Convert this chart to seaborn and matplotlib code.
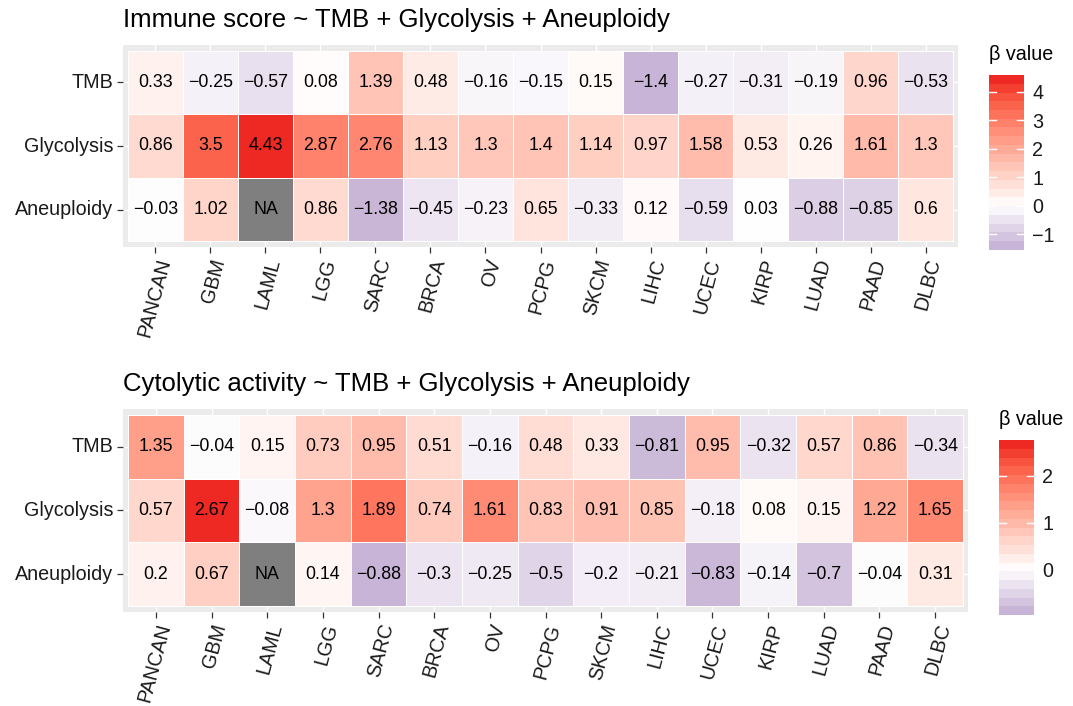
import numpy as np
import pandas as pd
import matplotlib
matplotlib.use("Agg")
import matplotlib.pyplot as plt
from matplotlib.colors import ListedColormap, TwoSlopeNorm
import seaborn as sns

plt.rcParams['font.family'] = ['Liberation Sans', 'DejaVu Sans']

# ---------------- data ----------------
cancers = ["PANCAN", "GBM", "LAML", "LGG", "SARC", "BRCA", "OV", "PCPG",
           "SKCM", "LIHC", "UCEC", "KIRP", "LUAD", "PAAD", "DLBC"]
features = ["TMB", "Glycolysis", "Aneuploidy"]

immune_tmb = [0.33, -0.25, -0.57, 0.08, 1.39, 0.48, -0.16, -0.15, 0.15, -1.4, -0.27, -0.31, -0.19, 0.96, -0.53]
immune_gly = [0.86, 3.5, 4.43, 2.87, 2.76, 1.13, 1.3, 1.4, 1.14, 0.97, 1.58, 0.53, 0.26, 1.61, 1.3]
immune_ane = [-0.03, 1.02, np.nan, 0.86, -1.38, -0.45, -0.23, 0.65, -0.33, 0.12, -0.59, 0.03, -0.88, -0.85, 0.6]

cyt_tmb = [1.35, -0.04, 0.15, 0.73, 0.95, 0.51, -0.16, 0.48, 0.33, -0.81, 0.95, -0.32, 0.57, 0.86, -0.34]
cyt_gly = [0.57, 2.67, -0.08, 1.3, 1.89, 0.74, 1.61, 0.83, 0.91, 0.85, -0.18, 0.08, 0.15, 1.22, 1.65]
cyt_ane = [0.2, 0.67, np.nan, 0.14, -0.88, -0.3, -0.25, -0.5, -0.2, -0.21, -0.83, -0.14, -0.7, -0.04, 0.31]

titles = ["Immune score ~ TMB + Glycolysis + Aneuploidy",
          "Cytolytic activity ~ TMB + Glycolysis + Aneuploidy"]
legend_title = "β value"

# ---------------- colour helpers (Lab interpolation like ggplot) ----------------
LOW = np.array([200, 180, 214]) / 255.0
MID = np.array([255, 255, 255]) / 255.0
HIGH = np.array([238, 40, 34]) / 255.0
WP = np.array([0.95047, 1.0, 1.08883])
M = np.array([[0.4124, 0.3576, 0.1805], [0.2126, 0.7152, 0.0722], [0.0193, 0.1192, 0.9505]])
Minv = np.linalg.inv(M)


def srgb_to_lab(c):
    lin = np.where(c <= 0.04045, c / 12.92, ((c + 0.055) / 1.055) ** 2.4)
    xyz = M @ lin / WP
    f = np.where(xyz > 0.008856, np.cbrt(xyz), 7.787 * xyz + 16 / 116)
    return np.array([116 * f[1] - 16, 500 * (f[0] - f[1]), 200 * (f[1] - f[2])])


def lab_to_srgb(lab):
    fy = (lab[0] + 16) / 116
    fx = fy + lab[1] / 500
    fz = fy - lab[2] / 200
    f = np.array([fx, fy, fz])
    xyz = np.where(f ** 3 > 0.008856, f ** 3, (f - 16 / 116) / 7.787) * WP
    lin = Minv @ xyz
    lin = np.clip(lin, 0, 1)
    c = np.where(lin <= 0.0031308, 12.92 * lin, 1.055 * lin ** (1 / 2.4) - 0.055)
    return np.clip(c, 0, 1)


labL, labM, labH = srgb_to_lab(LOW), srgb_to_lab(MID), srgb_to_lab(HIGH)
cols = []
for t in np.linspace(0, 1, 512):
    if t < 0.5:
        u = t / 0.5
        lab = labL + (labM - labL) * u
    else:
        u = (t - 0.5) / 0.5
        lab = labM + (labH - labM) * u
    cols.append(lab_to_srgb(lab))
cmap = ListedColormap(cols)
na_cmap = ListedColormap(["#7F7F7F"])

W, H = 1073, 706
fig = plt.figure(figsize=(W / 100, H / 100), dpi=100)


def fax(x0, y0, x1, y1):
    return fig.add_axes([x0 / W, 1 - y1 / H, (x1 - x0) / W, (y1 - y0) / H])


def fmt(v):
    if np.isnan(v):
        return ""
    return f"{v:g}".replace("-", "\u2212")


panels = [
    dict(rows=[immune_tmb, immune_gly, immune_ane], box=(123, 45, 958, 247),
         cbox=(989, 75, 1024, 250), title_y=20, ltitle_y=55),
    dict(rows=[cyt_tmb, cyt_gly, cyt_ane], box=(123, 409, 968, 612),
         cbox=(999, 440, 1034, 615), title_y=384, ltitle_y=420),
]

TXT = "#1a1a1a"
for p, title in zip(panels, titles):
    df = pd.DataFrame(p["rows"], index=features, columns=cancers)
    vals = df.values
    vmin, vmax = np.nanmin(vals), np.nanmax(vals)
    norm = TwoSlopeNorm(vmin=vmin, vcenter=0.0, vmax=vmax)
    labels = np.vectorize(fmt)(vals)

    ax = fax(*p["box"])
    ax.set_facecolor("#EBEBEB")
    sns.heatmap(df, ax=ax, cmap=cmap, norm=norm, cbar=False, annot=labels, fmt="",
                linewidths=0.7, linecolor="white",
                annot_kws=dict(fontsize=12.8, color="black"))
    # NA cells
    na = df.isna()
    na_df = pd.DataFrame(np.where(na, 1.0, np.nan), index=features, columns=cancers)
    na_lab = np.where(na, "NA", "")
    sns.heatmap(na_df, ax=ax, cmap=na_cmap, vmin=0, vmax=2, cbar=False, annot=na_lab, fmt="",
                linewidths=0.7, linecolor="white",
                annot_kws=dict(fontsize=12.8, color="black"))
    e = 0.09
    ax.set_xlim(-e, len(cancers) + e)
    ax.set_ylim(len(features) + e, -e)
    ax.set_axisbelow(True)
    ax.grid(True, color="white", linewidth=1.0)
    for s in ax.spines.values():
        s.set_visible(False)
    ax.set_xlabel("")
    ax.set_ylabel("")
    ax.set_xticks(np.arange(len(cancers)) + 0.5)
    ax.set_yticks(np.arange(len(features)) + 0.5)
    ax.set_xticklabels(cancers, rotation=75, ha="right", va="top", rotation_mode="anchor",
                       fontsize=14.2, color=TXT)
    ax.set_yticklabels(features, rotation=0, fontsize=14.2, color=TXT)
    ax.tick_params(axis="both", length=4, width=0.9, color="#333333", pad=3)

    fig.text(p["box"][0] / W, 1 - p["title_y"] / H, title, fontsize=18.5,
             ha="left", va="center", color="black")

    # colourbar (20 bins, as in ggplot)
    cax = fax(*p["cbox"])
    nbin = 20
    centers = np.linspace(vmin, vmax, nbin)
    h = (vmax - vmin) / (nbin - 1) / 2
    edges = np.linspace(vmin - h, vmax + h, nbin + 1)
    cax.pcolormesh([0, 1], edges, centers.reshape(-1, 1), cmap=cmap, norm=norm)
    cax.set_xlim(0, 1)
    cax.set_ylim(edges[0], edges[-1])
    for s in cax.spines.values():
        s.set_visible(False)
    ticks = [t for t in range(int(np.ceil(vmin)), int(np.floor(vmax)) + 1)]
    cax.set_xticks([])
    cax.yaxis.tick_right()
    cax.set_yticks(ticks)
    cax.set_yticklabels([str(t).replace("-", "\u2212") for t in ticks], fontsize=14.2, color=TXT)
    cax.tick_params(axis="y", length=0, pad=6)
    for t in ticks:
        cax.plot([0, 0.2], [t, t], color="white", lw=1)
        cax.plot([0.8, 1], [t, t], color="white", lw=1)
    fig.text(p["cbox"][0] / W, 1 - p["ltitle_y"] / H, legend_title, fontsize=14.2,
             ha="left", va="center", color="black")

fig.savefig("out.png", dpi=100)
